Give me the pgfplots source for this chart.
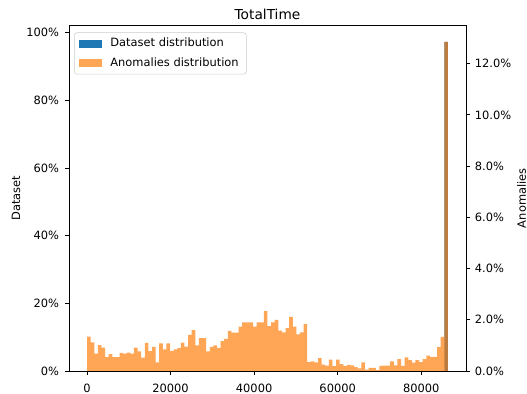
\documentclass[border=0pt]{standalone}
\usepackage{pgfplots}
\pgfplotsset{compat=1.18}
\usepackage{pgfplotstable}
\usepackage{fontspec}
\setmainfont{DejaVu Sans}

\definecolor{mplblue}{HTML}{1F77B4}
\definecolor{mplorange}{HTML}{FF7F0E}

% Anomalies histogram: left bin edge (s) and share of anomalies (%)
% the final row closes the last bin at 86400 s
\pgfplotstableread{
x y
0 1.34
864 1.12
1728 0.68
2592 1.01
3456 0.91
4320 0.54
5184 0.66
6048 0.54
6912 0.54
7776 0.71
8640 0.68
9504 0.72
10368 0.68
11232 0.91
12096 0.77
12960 0.52
13824 1.10
14688 0.78
15552 0.94
16416 0.34
17280 1.08
18144 0.84
19008 1.08
19872 0.78
20736 0.84
21600 0.89
22464 1.11
23328 0.95
24192 1.41
25056 1.60
25920 1.00
26784 1.28
27648 1.28
28512 0.77
29376 0.94
30240 1.00
31104 0.90
31968 1.17
32832 1.25
33696 1.57
34560 1.50
35424 1.50
36288 1.73
37152 1.90
38016 1.90
38880 1.90
39744 1.73
40608 1.90
41472 1.90
42336 2.34
43200 1.75
44064 1.90
44928 2.00
45792 1.58
46656 1.51
47520 1.67
48384 2.11
49248 1.73
50112 1.43
50976 1.51
51840 1.83
52704 0.35
53568 0.38
54432 0.34
55296 0.50
56160 0.25
57024 0.21
57888 0.44
58752 0.19
59616 0.44
60480 0.27
61344 0.19
62208 0.24
63072 0.22
63936 0.15
64800 0.10
65664 0.34
66528 0.05
67392 0.12
68256 0.12
69120 0.03
69984 0.20
70848 0.21
71712 0.21
72576 0.38
73440 0.22
74304 0.46
75168 0.20
76032 0.53
76896 0.42
77760 0.33
78624 0.42
79488 0.35
80352 0.46
81216 0.60
82080 0.55
82944 0.55
83808 0.93
84672 1.33
85536 12.85
86400 12.85
}\anomalies

% Dataset histogram: the whole mass sits in the last bin
\pgfplotstableread{
x y
85536 97.3
86400 97.3
}\dataset

\pgfplotsset{
  common/.style={
    width=285.84bp, height=248.76bp, scale only axis,
    at={(0,0)}, anchor=south west,
    xmin=-4320, xmax=90720, ymin=0,
    tick align=outside,
    major tick length=2.9bp,
    every tick/.style={black, line width=0.66bp},
    axis line style={line width=0.66bp},
    xticklabel shift=2.6bp,
    yticklabel shift=0.8bp,
    /pgf/number format/assume math mode=true,
    tick label style={font=\fontsize{8.23bp}{9.9bp}\selectfont},
  }
}

\begin{document}
\begin{tikzpicture}
\begin{axis}[common,
  ymax=102.17,
  tick pos=left,
  xtick={0,20000,40000,60000,80000},
  scaled x ticks=false,
  xticklabel={\pgfmathprintnumber[fixed,precision=0,1000 sep={}]{\tick}},
  ytick={0,20,40,60,80,100},
  yticklabel={\pgfmathprintnumber[fixed,precision=0]{\tick}\%},
  ylabel={Dataset},
  every axis y label/.style={at={(axis description cs:0,0.5)},
    xshift=-38.2bp, rotate=90, anchor=center,
    font=\fontsize{8.23bp}{9.9bp}\selectfont},
  title={TotalTime},
  title style={font=\fontsize{9.88bp}{11.8bp}\selectfont, yshift=-5.4bp},
]
\addplot[const plot, fill=mplblue, draw=none] table {\dataset} \closedcycle;
\end{axis}

\begin{axis}[common,
  ymax=13.49,
  axis on top,
  xtick=\empty,
  ytick pos=right,
  yticklabel pos=right,
  yticklabel shift=0bp,
  ytick={0,2,4,6,8,10,12},
  yticklabel={\pgfmathprintnumber[fixed,fixed zerofill,precision=1]{\tick}\%},
  ylabel={Anomalies},
  every axis y label/.style={at={(axis description cs:1,0.5)},
    xshift=40.1bp, rotate=90, anchor=center,
    font=\fontsize{8.23bp}{9.9bp}\selectfont},
  legend image code/.code={\fill[#1, sharp corners] (0bp,-2.9bp) rectangle (16.5bp,2.9bp);},
  legend style={
    at={(axis description cs:0,1)}, anchor=north west,
    xshift=3.6bp, yshift=-5bp,
    draw=black!20, rounded corners=2bp,
    fill=white, fill opacity=0.8, text opacity=1,
    font=\fontsize{8.23bp}{9.9bp}\selectfont,
    inner xsep=3.5bp, inner ysep=2bp,
    row sep=2.4bp,
    legend cell align=left,
    /tikz/every odd column/.append style={column sep=4bp},
  },
]
\addlegendimage{fill=mplblue, fill opacity=1, draw=none}
\addlegendentry{Dataset distribution}
\addplot[const plot, fill=mplorange, fill opacity=0.7, draw=none] table {\anomalies} \closedcycle;
\addlegendentry{Anomalies distribution}
\end{axis}

\pgfresetboundingbox
\path[use as bounding box] (-49.68bp,-16.56bp) rectangle (329.76bp,267.12bp);
\end{tikzpicture}
\end{document}
